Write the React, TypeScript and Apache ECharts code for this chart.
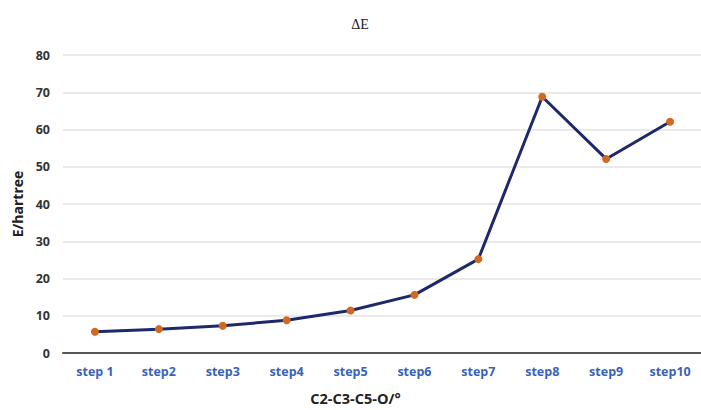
import React, { useEffect, useRef } from "react";
import * as echarts from "echarts";

const categories = ["step 1", "step2", "step3", "step4", "step5", "step6", "step7", "step8", "step9", "step10"];
const energies = [5.7, 6.4, 7.3, 8.8, 11.4, 15.6, 25.2, 68.8, 52.1, 62.1];
const yTicks = { min: 0, max: 80, interval: 10 };

export default function App() {
  const ref = useRef<HTMLDivElement>(null);
  useEffect(() => {
    if (!ref.current) return;
    const chart = echarts.init(ref.current, null, { renderer: "svg" });
    chart.setOption({
      animation: false,
      backgroundColor: "#ffffff",
      title: {
        text: "ΔE",
        left: 355,
        top: 12,
        textAlign: "center",
        textStyle: { fontFamily: "Liberation Serif", fontSize: 14, fontWeight: "normal", color: "#222" },
      },
      grid: { left: 63, right: -1, top: 55, bottom: 57, containLabel: false, outerBoundsMode: "none" },
      xAxis: {
        type: "category",
        data: categories,
        boundaryGap: true,
        name: "C2-C3-C5-O/°",
        nameLocation: "middle",
        nameGap: 38,
        nameTextStyle: { fontFamily: "Open Sans", fontSize: 14.5, fontWeight: "bold", color: "#222", padding: [0, 54, 0, 0] },
        axisLine: { lineStyle: { color: "#555", width: 2 } },
        axisTick: { show: false },
        axisLabel: { fontFamily: "Open Sans", fontSize: 12.5, fontWeight: "bold", color: "#3a62b8", margin: 12, interval: 0 },
      },
      yAxis: {
        type: "value",
        min: yTicks.min,
        max: yTicks.max,
        interval: yTicks.interval,
        name: "E/hartree",
        nameLocation: "middle",
        nameGap: 37,
        nameTextStyle: { fontFamily: "Open Sans", fontSize: 14, fontWeight: "bold", color: "#222" },
        axisLine: { show: false },
        axisTick: { show: false },
        axisLabel: { fontFamily: "Open Sans", fontSize: 12.5, fontWeight: "bold", color: "#333", margin: 13 },
        splitLine: { lineStyle: { color: "#e3e3e3", width: 1.5 } },
      },
      series: [
        {
          type: "line",
          data: energies,
          symbol: "circle",
          symbolSize: 8,
          lineStyle: { color: "#1c2a6b", width: 3 },
          itemStyle: { color: "#d2691f" },
          z: 3,
        },
      ],
    });
    return () => chart.dispose();
  }, []);
  return <div ref={ref} style={{ width: 701, height: 410, position: "absolute", left: 0, top: 0 }} />;
}
